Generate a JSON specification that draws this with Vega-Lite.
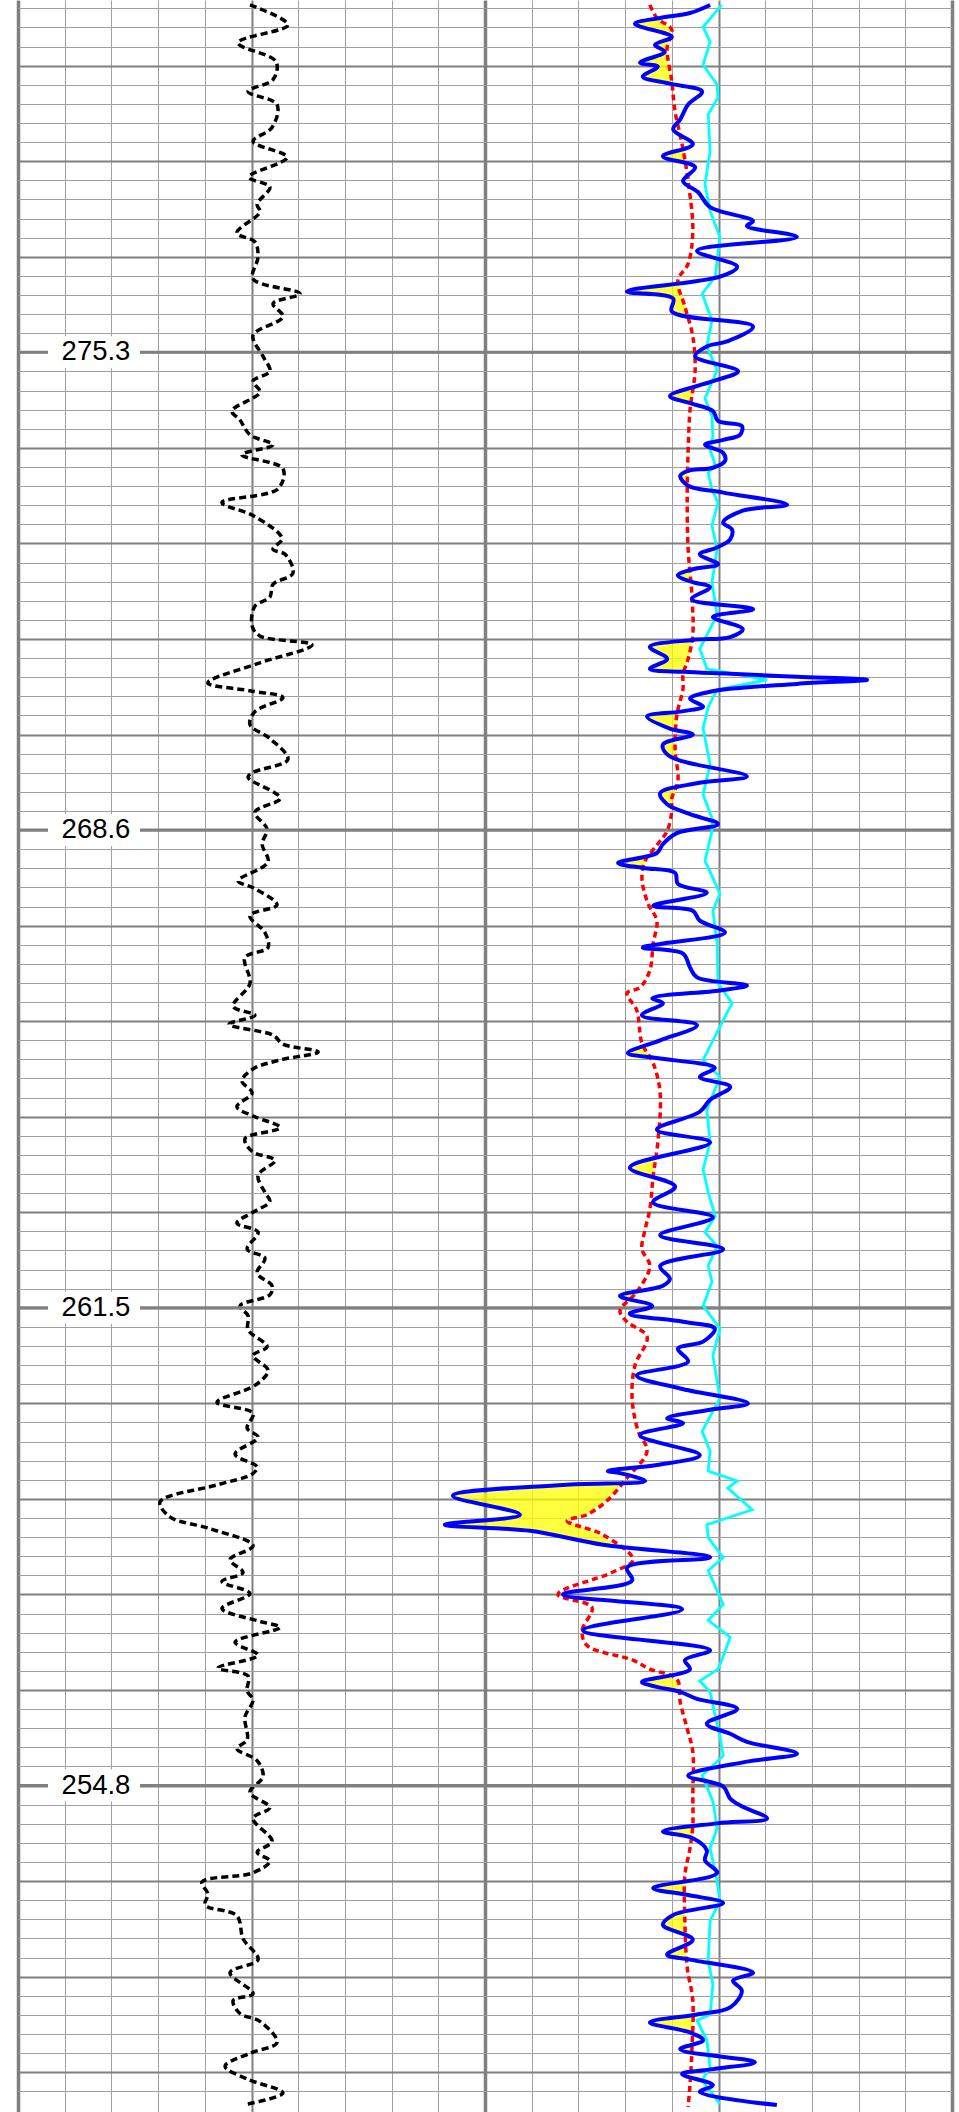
{
  "$schema": "https://vega.github.io/schema/vega-lite/v6.json",
  "width": 934,
  "height": 2112,
  "padding": {"left": 18, "right": 7, "top": 0, "bottom": 0},
  "autosize": {"type": "none"},
  "config": {"view": {"stroke": null}, "background": "white"},
  "datasets": {
    "labels": [
      {"d": 25, "lab": "275.3"}, {"d": 50, "lab": "268.6"}, {"d": 75, "lab": "261.5"}, {"d": 100, "lab": "254.8"}
    ],
    "gr": [
      {"d":6.82,"gr":74.5},{"d":7.86,"gr":86.7},{"d":8.80,"gr":70.7},{"d":9.79,"gr":82.9},{"d":10.73,"gr":81.9},{"d":11.35,"gr":73.9},{"d":12.03,"gr":83.2},{"d":13.23,"gr":81.6},{"d":13.96,"gr":75.5},{"d":14.79,"gr":86.4},{"d":15.83,"gr":74.2},{"d":16.35,"gr":80.9},{"d":17.24,"gr":76.8},{"d":17.66,"gr":77.7},{"d":18.75,"gr":70.3},{"d":19.22,"gr":76.1},{"d":20.00,"gr":77.1},{"d":21.15,"gr":75.5},{"d":21.93,"gr":90.6},{"d":22.45,"gr":81.9},{"d":23.13,"gr":85.1},{"d":24.11,"gr":75.5},{"d":25.21,"gr":78.7},{"d":25.99,"gr":80.9},{"d":26.51,"gr":75.5},{"d":27.08,"gr":77.7},{"d":28.07,"gr":68.7},{"d":28.54,"gr":71.3},{"d":29.32,"gr":74.5},{"d":29.84,"gr":81.9},{"d":30.36,"gr":71.9},{"d":31.09,"gr":85.1},{"d":32.14,"gr":83.5},{"d":32.86,"gr":65.5},{"d":33.54,"gr":75.5},{"d":34.74,"gr":84.8},{"d":35.31,"gr":81.9},{"d":35.57,"gr":85.8},{"d":36.56,"gr":88.3},{"d":37.14,"gr":81.9},{"d":37.81,"gr":80.9},{"d":38.28,"gr":76.1},{"d":39.32,"gr":75.2},{"d":39.84,"gr":77.7},{"d":40.31,"gr":94.4},{"d":41.25,"gr":77.7},{"d":42.29,"gr":61.0},{"d":42.71,"gr":74.5},{"d":43.07,"gr":85.1},{"d":43.80,"gr":76.1},{"d":44.48,"gr":74.5},{"d":45.21,"gr":80.9},{"d":46.30,"gr":86.7},{"d":46.98,"gr":75.5},{"d":47.24,"gr":73.9},{"d":48.33,"gr":84.2},{"d":49.06,"gr":76.1},{"d":49.95,"gr":80.0},{"d":50.73,"gr":78.4},{"d":51.67,"gr":80.3},{"d":52.66,"gr":70.7},{"d":53.02,"gr":75.5},{"d":53.91,"gr":83.2},{"d":54.48,"gr":74.5},{"d":55.36,"gr":79.3},{"d":56.15,"gr":80.3},{"d":56.67,"gr":72.9},{"d":58.02,"gr":74.5},{"d":59.22,"gr":69.1},{"d":59.69,"gr":76.1},{"d":60.16,"gr":67.8},{"d":60.73,"gr":81.9},{"d":61.20,"gr":85.1},{"d":61.61,"gr":96.4},{"d":62.03,"gr":84.2},{"d":62.50,"gr":75.5},{"d":63.13,"gr":71.9},{"d":63.75,"gr":75.2},{"d":64.48,"gr":70.3},{"d":65.00,"gr":76.1},{"d":65.57,"gr":84.2},{"d":66.15,"gr":72.9},{"d":66.82,"gr":75.2},{"d":67.29,"gr":82.5},{"d":68.07,"gr":77.1},{"d":68.96,"gr":79.3},{"d":69.43,"gr":80.9},{"d":70.00,"gr":75.5},{"d":70.57,"gr":70.3},{"d":71.04,"gr":77.1},{"d":71.93,"gr":73.6},{"d":72.40,"gr":79.3},{"d":73.18,"gr":76.8},{"d":73.85,"gr":81.6},{"d":74.32,"gr":80.9},{"d":74.90,"gr":71.3},{"d":75.42,"gr":73.9},{"d":76.15,"gr":73.9},{"d":77.03,"gr":80.0},{"d":77.50,"gr":75.5},{"d":78.28,"gr":80.3},{"d":79.06,"gr":76.1},{"d":79.95,"gr":63.9},{"d":80.52,"gr":75.5},{"d":81.30,"gr":73.6},{"d":81.77,"gr":77.1},{"d":82.66,"gr":69.7},{"d":83.33,"gr":76.8},{"d":83.70,"gr":75.2},{"d":84.27,"gr":63.9},{"d":85.16,"gr":45.6},{"d":85.94,"gr":48.8},{"d":86.56,"gr":61.7},{"d":87.45,"gr":75.5},{"d":88.18,"gr":68.1},{"d":88.85,"gr":72.3},{"d":89.32,"gr":65.5},{"d":89.95,"gr":74.5},{"d":90.73,"gr":65.5},{"d":91.41,"gr":77.7},{"d":91.72,"gr":84.2},{"d":92.50,"gr":69.7},{"d":93.18,"gr":77.1},{"d":93.85,"gr":64.2},{"d":94.27,"gr":73.9},{"d":95.05,"gr":73.6},{"d":95.52,"gr":75.5},{"d":96.41,"gr":72.9},{"d":97.60,"gr":73.6},{"d":98.07,"gr":70.3},{"d":98.70,"gr":76.8},{"d":99.53,"gr":78.7},{"d":100.36,"gr":74.5},{"d":101.15,"gr":80.9},{"d":101.72,"gr":75.5},{"d":102.92,"gr":81.6},{"d":103.49,"gr":76.8},{"d":103.96,"gr":80.9},{"d":104.58,"gr":75.2},{"d":105.05,"gr":59.1},{"d":105.68,"gr":61.0},{"d":106.25,"gr":60.1},{"d":106.82,"gr":70.3},{"d":108.02,"gr":72.3},{"d":109.11,"gr":77.1},{"d":109.79,"gr":68.1},{"d":110.89,"gr":75.5},{"d":111.25,"gr":69.1},{"d":111.93,"gr":71.3},{"d":112.34,"gr":77.7},{"d":113.44,"gr":83.2},{"d":114.01,"gr":74.5},{"d":114.69,"gr":66.5},{"d":115.36,"gr":73.6},{"d":116.09,"gr":85.1},{"d":116.67,"gr":73.6}
    ],
    "blue": [
      {"d":6.82,"v":48.2},{"d":7.24,"v":43.9},{"d":7.50,"v":37.5},{"d":7.81,"v":32.1},{"d":8.49,"v":40.0},{"d":8.91,"v":36.4},{"d":9.27,"v":38.5},{"d":9.84,"v":33.2},{"d":10.05,"v":37.0},{"d":10.57,"v":33.8},{"d":10.94,"v":39.6},{"d":11.35,"v":46.5},{"d":12.03,"v":43.5},{"d":12.81,"v":41.8},{"d":13.33,"v":40.3},{"d":14.11,"v":44.5},{"d":14.74,"v":38.1},{"d":15.31,"v":45.0},{"d":16.04,"v":42.4},{"d":16.61,"v":45.6},{"d":17.40,"v":48.2},{"d":18.13,"v":57.4},{"d":18.39,"v":56.1},{"d":18.96,"v":66.8},{"d":19.69,"v":45.4},{"d":20.52,"v":54.0},{"d":21.04,"v":50.3},{"d":21.82,"v":30.4},{"d":22.19,"v":40.3},{"d":22.86,"v":40.0},{"d":23.65,"v":57.4},{"d":24.43,"v":51.8},{"d":24.69,"v":47.5},{"d":25.21,"v":45.0},{"d":25.99,"v":54.2},{"d":26.51,"v":48.8},{"d":27.29,"v":39.6},{"d":27.66,"v":43.9},{"d":28.07,"v":48.8},{"d":28.59,"v":49.9},{"d":28.85,"v":55.0},{"d":29.32,"v":54.6},{"d":29.58,"v":51.0},{"d":29.84,"v":47.1},{"d":30.26,"v":51.0},{"d":30.68,"v":51.4},{"d":31.04,"v":48.8},{"d":31.20,"v":43.5},{"d":31.46,"v":41.8},{"d":31.98,"v":43.5},{"d":32.34,"v":51.0},{"d":32.97,"v":64.7},{"d":33.28,"v":55.2},{"d":33.91,"v":51.0},{"d":34.27,"v":52.9},{"d":34.79,"v":52.5},{"d":35.21,"v":49.7},{"d":35.57,"v":46.0},{"d":36.09,"v":49.9},{"d":36.35,"v":44.5},{"d":36.67,"v":41.3},{"d":37.03,"v":44.5},{"d":37.29,"v":48.2},{"d":37.92,"v":44.3},{"d":38.44,"v":57.4},{"d":38.85,"v":48.8},{"d":39.48,"v":55.2},{"d":39.90,"v":52.5},{"d":40.05,"v":44.5},{"d":40.42,"v":35.3},{"d":41.04,"v":39.0},{"d":41.56,"v":35.3},{"d":41.72,"v":42.4},{"d":41.82,"v":52.5},{"d":41.98,"v":66.8},{"d":42.14,"v":81.8},{"d":42.35,"v":66.8},{"d":42.76,"v":48.2},{"d":43.13,"v":43.9},{"d":43.54,"v":46.7},{"d":43.80,"v":41.8},{"d":44.06,"v":34.7},{"d":44.69,"v":39.6},{"d":45.00,"v":44.5},{"d":45.52,"v":38.1},{"d":46.04,"v":39.0},{"d":46.41,"v":42.4},{"d":47.19,"v":56.1},{"d":47.55,"v":45.4},{"d":48.07,"v":37.5},{"d":48.65,"v":39.0},{"d":49.17,"v":43.9},{"d":49.69,"v":49.9},{"d":50.16,"v":41.1},{"d":50.73,"v":38.1},{"d":51.20,"v":36.8},{"d":51.72,"v":28.5},{"d":51.98,"v":33.8},{"d":52.24,"v":40.7},{"d":52.81,"v":41.3},{"d":53.28,"v":47.5},{"d":53.96,"v":36.0},{"d":54.22,"v":44.5},{"d":54.74,"v":46.0},{"d":55.36,"v":51.4},{"d":55.94,"v":38.1},{"d":56.15,"v":33.8},{"d":56.46,"v":42.4},{"d":57.19,"v":43.9},{"d":57.71,"v":45.4},{"d":58.13,"v":56.1},{"d":58.39,"v":50.3},{"d":58.80,"v":35.8},{"d":59.06,"v":38.1},{"d":59.69,"v":33.6},{"d":60.21,"v":45.4},{"d":61.00,"v":37.5},{"d":61.67,"v":30.6},{"d":61.93,"v":36.8},{"d":62.45,"v":49.2},{"d":62.92,"v":46.0},{"d":63.44,"v":52.5},{"d":64.11,"v":48.2},{"d":64.74,"v":46.0},{"d":65.68,"v":36.8},{"d":66.35,"v":48.2},{"d":67.66,"v":31.0},{"d":68.65,"v":40.7},{"d":69.48,"v":36.0},{"d":70.26,"v":48.8},{"d":71.20,"v":37.5},{"d":71.93,"v":51.0},{"d":72.81,"v":37.5},{"d":73.49,"v":39.6},{"d":73.85,"v":38.1},{"d":74.38,"v":28.9},{"d":74.90,"v":35.8},{"d":75.31,"v":31.0},{"d":75.73,"v":42.4},{"d":76.09,"v":49.2},{"d":76.77,"v":46.7},{"d":77.14,"v":41.3},{"d":77.81,"v":43.5},{"d":78.54,"v":32.5},{"d":79.22,"v":41.8},{"d":80.00,"v":56.3},{"d":80.36,"v":47.5},{"d":80.78,"v":39.0},{"d":81.04,"v":42.4},{"d":81.67,"v":33.2},{"d":82.71,"v":46.0},{"d":83.23,"v":36.8},{"d":83.54,"v":26.3},{"d":83.65,"v":28.9},{"d":84.06,"v":34.3},{"d":84.27,"v":16.7},{"d":84.84,"v":-6.9},{"d":85.83,"v":7.5},{"d":86.35,"v":-8.6},{"d":86.67,"v":9.6},{"d":87.40,"v":25.3},{"d":88.07,"v":48.2},{"d":88.59,"v":30.4},{"d":89.27,"v":31.5},{"d":90.00,"v":16.7},{"d":90.78,"v":42.2},{"d":91.88,"v":21.0},{"d":92.92,"v":48.2},{"d":93.44,"v":42.8},{"d":93.91,"v":43.9},{"d":94.58,"v":33.6},{"d":94.84,"v":36.8},{"d":95.10,"v":41.8},{"d":95.47,"v":45.4},{"d":95.99,"v":54.0},{"d":96.77,"v":47.5},{"d":97.29,"v":52.5},{"d":97.71,"v":56.1},{"d":98.33,"v":66.8},{"d":98.75,"v":56.1},{"d":99.48,"v":43.5},{"d":100.05,"v":51.0},{"d":100.68,"v":52.5},{"d":101.09,"v":55.0},{"d":101.72,"v":60.4},{"d":101.98,"v":49.7},{"d":102.40,"v":38.1},{"d":102.76,"v":44.5},{"d":103.39,"v":47.5},{"d":103.91,"v":47.1},{"d":104.58,"v":49.7},{"d":105.36,"v":36.0},{"d":105.73,"v":43.5},{"d":106.15,"v":51.0},{"d":106.77,"v":40.3},{"d":107.29,"v":38.1},{"d":108.07,"v":44.5},{"d":108.85,"v":39.0},{"d":109.11,"v":43.9},{"d":109.79,"v":57.4},{"d":110.21,"v":53.1},{"d":110.73,"v":55.0},{"d":111.61,"v":52.5},{"d":111.98,"v":45.4},{"d":112.40,"v":35.3},{"d":112.92,"v":43.9},{"d":113.33,"v":46.7},{"d":113.80,"v":41.8},{"d":114.48,"v":57.8},{"d":114.84,"v":48.8},{"d":115.10,"v":42.2},{"d":115.68,"v":48.8},{"d":116.04,"v":46.0},{"d":116.72,"v":62.5}
    ],
    "red": [
      {"d":6.82,"v":35.3},{"d":7.50,"v":36.8},{"d":8.12,"v":40.0},{"d":9.06,"v":39.0},{"d":10.83,"v":40.0},{"d":12.40,"v":40.7},{"d":14.11,"v":42.2},{"d":16.04,"v":43.5},{"d":18.65,"v":44.5},{"d":20.36,"v":43.5},{"d":21.25,"v":41.3},{"d":22.60,"v":42.8},{"d":24.17,"v":44.5},{"d":25.94,"v":45.0},{"d":27.29,"v":44.3},{"d":28.02,"v":43.9},{"d":30.10,"v":43.5},{"d":32.50,"v":43.3},{"d":35.31,"v":43.5},{"d":37.71,"v":44.3},{"d":39.79,"v":44.5},{"d":41.04,"v":43.5},{"d":41.87,"v":42.4},{"d":42.60,"v":42.4},{"d":43.96,"v":41.1},{"d":45.73,"v":40.7},{"d":47.45,"v":41.3},{"d":48.33,"v":40.0},{"d":48.99,"v":40.0},{"d":50.05,"v":39.0},{"d":50.73,"v":37.0},{"d":51.61,"v":34.3},{"d":52.50,"v":33.6},{"d":53.85,"v":34.9},{"d":54.74,"v":36.8},{"d":55.94,"v":36.0},{"d":57.34,"v":35.3},{"d":58.23,"v":33.2},{"d":58.54,"v":30.4},{"d":59.43,"v":32.5},{"d":61.15,"v":33.6},{"d":62.19,"v":36.0},{"d":63.75,"v":37.5},{"d":66.35,"v":37.0},{"d":68.13,"v":36.0},{"d":69.84,"v":35.3},{"d":70.89,"v":34.3},{"d":71.93,"v":33.6},{"d":72.81,"v":35.3},{"d":74.17,"v":32.5},{"d":75.16,"v":28.9},{"d":75.73,"v":30.4},{"d":76.51,"v":34.7},{"d":78.02,"v":32.1},{"d":79.74,"v":31.5},{"d":81.46,"v":32.8},{"d":82.50,"v":34.7},{"d":83.91,"v":30.4},{"d":85.10,"v":26.1},{"d":85.83,"v":21.8},{"d":86.15,"v":17.6},{"d":86.88,"v":25.3},{"d":88.18,"v":31.7},{"d":88.85,"v":27.2},{"d":90.00,"v":15.6},{"d":90.68,"v":22.9},{"d":91.88,"v":20.8},{"d":92.66,"v":21.8},{"d":93.44,"v":31.7},{"d":93.91,"v":35.3},{"d":94.43,"v":41.1},{"d":95.62,"v":41.8},{"d":97.03,"v":43.3},{"d":98.23,"v":44.5},{"d":100.52,"v":44.5},{"d":102.08,"v":44.5},{"d":103.28,"v":43.9},{"d":104.69,"v":42.8},{"d":107.08,"v":42.8},{"d":109.53,"v":43.3},{"d":111.25,"v":44.5},{"d":113.85,"v":44.3},{"d":115.63,"v":43.9},{"d":116.82,"v":43.5}
    ],
    "cyan": [
      {"d":6.82,"v":50.7},{"d":7.97,"v":46.7},{"d":8.75,"v":48.2},{"d":9.95,"v":46.7},{"d":11.00,"v":49.7},{"d":11.67,"v":49.9},{"d":12.55,"v":47.8},{"d":14.48,"v":48.2},{"d":16.20,"v":47.1},{"d":17.60,"v":48.2},{"d":18.96,"v":50.3},{"d":21.04,"v":49.3},{"d":21.93,"v":46.5},{"d":23.33,"v":48.6},{"d":24.69,"v":47.5},{"d":25.94,"v":49.7},{"d":27.40,"v":47.1},{"d":28.33,"v":48.6},{"d":29.38,"v":48.8},{"d":30.10,"v":48.2},{"d":30.89,"v":49.3},{"d":31.30,"v":47.8},{"d":32.19,"v":48.6},{"d":32.86,"v":49.9},{"d":34.06,"v":48.6},{"d":35.31,"v":49.7},{"d":37.03,"v":48.6},{"d":38.75,"v":49.7},{"d":40.52,"v":46.0},{"d":41.56,"v":47.5},{"d":42.14,"v":60.4},{"d":42.66,"v":49.7},{"d":43.54,"v":47.8},{"d":44.69,"v":46.7},{"d":46.56,"v":48.2},{"d":48.13,"v":46.7},{"d":49.38,"v":48.6},{"d":50.05,"v":48.6},{"d":51.61,"v":47.1},{"d":52.50,"v":48.8},{"d":53.33,"v":50.3},{"d":54.22,"v":48.8},{"d":55.94,"v":49.7},{"d":58.02,"v":49.9},{"d":59.06,"v":52.9},{"d":60.10,"v":50.7},{"d":62.03,"v":46.7},{"d":62.92,"v":50.3},{"d":64.64,"v":47.5},{"d":66.35,"v":48.2},{"d":67.76,"v":46.7},{"d":68.96,"v":47.8},{"d":70.21,"v":49.3},{"d":71.04,"v":47.1},{"d":71.77,"v":49.7},{"d":72.81,"v":47.8},{"d":73.65,"v":48.6},{"d":74.90,"v":46.7},{"d":76.09,"v":50.3},{"d":77.50,"v":48.8},{"d":79.74,"v":50.3},{"d":81.46,"v":46.5},{"d":82.50,"v":48.2},{"d":83.54,"v":47.8},{"d":84.06,"v":54.0},{"d":84.43,"v":52.0},{"d":85.57,"v":57.2},{"d":86.35,"v":47.5},{"d":87.03,"v":47.8},{"d":88.07,"v":51.0},{"d":88.75,"v":47.8},{"d":90.52,"v":51.0},{"d":91.35,"v":47.8},{"d":92.24,"v":52.5},{"d":93.44,"v":50.7},{"d":93.91,"v":49.9},{"d":94.53,"v":46.0},{"d":95.10,"v":48.2},{"d":96.35,"v":49.3},{"d":97.40,"v":50.3},{"d":98.44,"v":51.0},{"d":99.48,"v":46.5},{"d":100.83,"v":48.8},{"d":102.24,"v":49.7},{"d":103.28,"v":48.2},{"d":105.00,"v":49.7},{"d":106.04,"v":50.3},{"d":107.08,"v":48.2},{"d":109.17,"v":47.8},{"d":110.42,"v":48.8},{"d":111.98,"v":48.2},{"d":112.29,"v":45.4},{"d":113.33,"v":47.5},{"d":114.74,"v":48.2},{"d":115.42,"v":46.5},{"d":116.67,"v":50.3}
    ],
    "fill": [
      {"seg":1,"d":7.55,"lo":37.0,"hi":37.0},{"seg":1,"d":7.81,"lo":32.1,"hi":38.5},{"seg":1,"d":8.12,"lo":35.8,"hi":39.8},{"seg":1,"d":8.49,"lo":39.8,"hi":39.8},{"seg":1,"d":8.91,"lo":36.4,"hi":39.2},{"seg":1,"d":9.27,"lo":38.5,"hi":39.0},{"seg":1,"d":9.84,"lo":33.2,"hi":39.2},{"seg":1,"d":10.05,"lo":37.0,"hi":39.4},{"seg":1,"d":10.57,"lo":33.8,"hi":39.8},{"seg":1,"d":10.94,"lo":39.6,"hi":40.0},{"seg":1,"d":10.99,"lo":40.0,"hi":40.0},
      {"seg":2,"d":14.32,"lo":42.6,"hi":42.6},{"seg":2,"d":14.74,"lo":38.1,"hi":42.8},{"seg":2,"d":15.10,"lo":43.0,"hi":43.0},
      {"seg":3,"d":21.41,"lo":41.5,"hi":41.5},{"seg":3,"d":21.82,"lo":30.4,"hi":42.0},{"seg":3,"d":22.19,"lo":40.3,"hi":42.4},{"seg":3,"d":22.86,"lo":40.0,"hi":43.3},{"seg":3,"d":23.02,"lo":43.5,"hi":43.5},
      {"seg":4,"d":26.88,"lo":44.3,"hi":44.3},{"seg":4,"d":27.29,"lo":39.6,"hi":44.3},{"seg":4,"d":27.66,"lo":43.9,"hi":44.1},{"seg":4,"d":27.71,"lo":44.1,"hi":44.1},
      {"seg":5,"d":31.25,"lo":43.3,"hi":43.3},{"seg":5,"d":31.46,"lo":41.8,"hi":43.3},{"seg":5,"d":31.93,"lo":43.3,"hi":43.3},
      {"seg":6,"d":36.41,"lo":43.9,"hi":43.9},{"seg":6,"d":36.67,"lo":41.3,"hi":43.9},{"seg":6,"d":36.98,"lo":43.9,"hi":43.9},
      {"seg":7,"d":40.05,"lo":44.3,"hi":44.3},{"seg":7,"d":40.42,"lo":35.3,"hi":44.1},{"seg":7,"d":41.04,"lo":39.0,"hi":43.5},{"seg":7,"d":41.56,"lo":35.3,"hi":42.8},{"seg":7,"d":41.72,"lo":42.4,"hi":42.6},{"seg":7,"d":41.77,"lo":42.6,"hi":42.6},
      {"seg":8,"d":43.82,"lo":41.3,"hi":41.3},{"seg":8,"d":44.06,"lo":34.7,"hi":41.1},{"seg":8,"d":44.69,"lo":39.6,"hi":40.9},{"seg":8,"d":44.77,"lo":40.9,"hi":40.9},
      {"seg":9,"d":45.31,"lo":40.7,"hi":40.7},{"seg":9,"d":45.52,"lo":38.1,"hi":40.7},{"seg":9,"d":46.04,"lo":39.0,"hi":40.9},{"seg":9,"d":46.23,"lo":40.9,"hi":40.9},
      {"seg":10,"d":47.83,"lo":41.1,"hi":41.1},{"seg":10,"d":48.07,"lo":37.5,"hi":40.7},{"seg":10,"d":48.65,"lo":39.0,"hi":40.0},{"seg":10,"d":48.73,"lo":40.0,"hi":40.0},
      {"seg":11,"d":51.32,"lo":34.9,"hi":34.9},{"seg":11,"d":51.72,"lo":28.5,"hi":34.3},{"seg":11,"d":51.98,"lo":33.8,"hi":34.0},{"seg":11,"d":52.00,"lo":34.0,"hi":34.0},
      {"seg":12,"d":56.04,"lo":36.0,"hi":36.0},{"seg":12,"d":56.15,"lo":33.8,"hi":36.0},{"seg":12,"d":56.22,"lo":36.0,"hi":36.0},
      {"seg":13,"d":61.35,"lo":33.8,"hi":33.8},{"seg":13,"d":61.67,"lo":30.6,"hi":34.9},{"seg":13,"d":61.85,"lo":35.1,"hi":35.1},
      {"seg":14,"d":67.25,"lo":36.4,"hi":36.4},{"seg":14,"d":67.66,"lo":31.0,"hi":36.2},{"seg":14,"d":68.18,"lo":36.2,"hi":36.2},
      {"seg":15,"d":74.19,"lo":32.1,"hi":32.1},{"seg":15,"d":74.38,"lo":28.9,"hi":31.7},{"seg":15,"d":74.55,"lo":31.3,"hi":31.3},
      {"seg":16,"d":83.39,"lo":31.3,"hi":31.3},{"seg":16,"d":83.54,"lo":26.3,"hi":31.0},{"seg":16,"d":83.65,"lo":28.9,"hi":30.8},{"seg":16,"d":83.78,"lo":30.6,"hi":30.6},
      {"seg":17,"d":84.11,"lo":30.0,"hi":30.0},{"seg":17,"d":84.27,"lo":16.7,"hi":29.1},{"seg":17,"d":84.84,"lo":-6.9,"hi":27.0},{"seg":17,"d":85.83,"lo":7.5,"hi":21.8},{"seg":17,"d":86.15,"lo":-2.1,"hi":17.6},{"seg":17,"d":86.35,"lo":-8.6,"hi":19.7},{"seg":17,"d":86.67,"lo":9.6,"hi":23.1},{"seg":17,"d":87.40,"lo":25.3,"hi":27.8},{"seg":17,"d":87.48,"lo":28.1,"hi":28.1},
      {"seg":18,"d":94.23,"lo":39.0,"hi":39.0},{"seg":18,"d":94.58,"lo":33.6,"hi":41.3},{"seg":18,"d":94.84,"lo":36.8,"hi":41.3},{"seg":18,"d":95.09,"lo":41.5,"hi":41.5},
      {"seg":19,"d":102.17,"lo":44.5,"hi":44.5},{"seg":19,"d":102.40,"lo":38.1,"hi":44.5},{"seg":19,"d":102.76,"lo":44.5,"hi":44.5},
      {"seg":20,"d":104.96,"lo":43.0,"hi":43.0},{"seg":20,"d":105.36,"lo":36.0,"hi":43.0},{"seg":20,"d":105.71,"lo":43.0,"hi":43.0},
      {"seg":21,"d":106.62,"lo":42.8,"hi":42.8},{"seg":21,"d":106.77,"lo":40.3,"hi":42.8},{"seg":21,"d":107.29,"lo":38.1,"hi":42.8},{"seg":21,"d":107.86,"lo":42.8,"hi":42.8},
      {"seg":22,"d":108.28,"lo":43.0,"hi":43.0},{"seg":22,"d":108.85,"lo":39.0,"hi":43.0},{"seg":22,"d":109.07,"lo":43.0,"hi":43.0},
      {"seg":23,"d":112.02,"lo":44.5,"hi":44.5},{"seg":23,"d":112.40,"lo":35.3,"hi":44.5},{"seg":23,"d":112.92,"lo":43.9,"hi":44.5},{"seg":23,"d":113.02,"lo":44.5,"hi":44.5},
      {"seg":24,"d":113.55,"lo":44.3,"hi":44.3},{"seg":24,"d":113.80,"lo":41.8,"hi":44.3},{"seg":24,"d":113.91,"lo":44.3,"hi":44.3},
      {"seg":25,"d":115.04,"lo":43.9,"hi":43.9},{"seg":25,"d":115.10,"lo":42.2,"hi":43.9},{"seg":25,"d":115.25,"lo":43.9,"hi":43.9}
    ]
  },
  "encoding": {
    "y": {
      "field": "d", "type": "quantitative",
      "scale": {"domain": [6.8229, 116.8229], "reverse": true, "nice": false, "zero": false},
      "axis": {
        "values": [7,8,9,10,11,12,13,14,15,16,17,18,19,20,21,22,23,24,25,26,27,28,29,30,31,32,33,34,35,36,37,38,39,40,41,42,43,44,45,46,47,48,49,50,51,52,53,54,55,56,57,58,59,60,61,62,63,64,65,66,67,68,69,70,71,72,73,74,75,76,77,78,79,80,81,82,83,84,85,86,87,88,89,90,91,92,93,94,95,96,97,98,99,100,101,102,103,104,105,106,107,108,109,110,111,112,113,114,115,116],
        "grid": true, "labels": false, "ticks": false, "domain": false, "title": null,
        "gridColor": {"condition": {"test": "datum.value % 5 === 0", "value": "#808080"}, "value": "#a0a0a0"},
        "gridWidth": {"condition": {"test": "datum.value % 5 === 0", "value": 2}, "value": 1},
        "gridOpacity": 1
      }
    }
  },
  "resolve": {"scale": {"x": "independent"}, "axis": {"x": "independent"}},
  "layer": [
    {
      "data": {"name": "gr"},
      "mark": {"type": "line", "color": "black", "strokeWidth": 3.5, "strokeDash": [7, 4], "interpolate": "catmull-rom"},
      "encoding": {
        "x": {
          "field": "gr", "type": "quantitative",
          "scale": {"domain": [0, 300], "range": [0, 934], "nice": false, "zero": false},
          "axis": {
            "orient": "bottom",
            "values": [0,15,30,45,60,75,90,105,120,135,150,165,180,195,210,225,240,255,270,285,300],
            "grid": true, "labels": false, "ticks": false, "domain": false, "title": null, "gridOpacity": 1,
            "gridColor": {"condition": {"test": "datum.value % 75 === 0", "value": "#808080"}, "value": "#a0a0a0"},
            "gridWidth": {"condition": {"test": "datum.value % 75 === 0", "expr": "datum.value % 150 === 0 ? 3.5 : 2"}, "value": 1}
          }
        },
        "order": {"field": "d", "type": "quantitative"}
      }
    },
    {
      "data": {"name": "labels"},
      "layer": [
        {
          "mark": {"type": "rule", "color": "#808080", "strokeWidth": 3},
          "encoding": {}
        },
        {
          "mark": {"type": "bar", "orient": "horizontal", "height": 32, "color": "white"},
          "encoding": {
            "x": {"datum": 0.643, "type": "quantitative", "scale": {"domain": [0, 20], "nice": false, "zero": false}, "axis": null},
            "x2": {"datum": 2.612}
          }
        },
        {
          "mark": {"type": "text", "font": "Liberation Sans", "fontSize": 27.5, "color": "black", "align": "center", "baseline": "middle"},
          "encoding": {
            "x": {"datum": 1.67, "type": "quantitative", "axis": null},
            "text": {"field": "lab"}
          }
        }
      ]
    },
    {
      "layer": [
        {
          "data": {"name": "fill"},
          "mark": {"type": "area", "orient": "horizontal", "color": "#ffff00", "opacity": 0.75},
          "encoding": {
            "x": {"field": "lo", "type": "quantitative", "scale": {"domain": [0, 100], "range": [467, 934], "nice": false, "zero": false}, "axis": null},
            "x2": {"field": "hi"},
            "detail": {"field": "seg", "type": "nominal"}
          }
        },
        {
          "data": {"name": "cyan"},
          "mark": {"type": "line", "color": "#00ffff", "strokeWidth": 2.8},
          "encoding": {
            "x": {"field": "v", "type": "quantitative", "axis": null},
            "order": {"field": "d", "type": "quantitative"}
          }
        },
        {
          "data": {"name": "red"},
          "mark": {"type": "line", "color": "#ff0000", "strokeWidth": 3.5, "strokeDash": [6, 4], "interpolate": "catmull-rom"},
          "encoding": {
            "x": {"field": "v", "type": "quantitative", "axis": null},
            "order": {"field": "d", "type": "quantitative"}
          }
        },
        {
          "data": {"name": "blue"},
          "mark": {"type": "line", "color": "#0000ff", "strokeWidth": 4, "interpolate": "catmull-rom"},
          "encoding": {
            "x": {"field": "v", "type": "quantitative", "axis": null},
            "order": {"field": "d", "type": "quantitative"}
          }
        }
      ]
    }
  ]
}
